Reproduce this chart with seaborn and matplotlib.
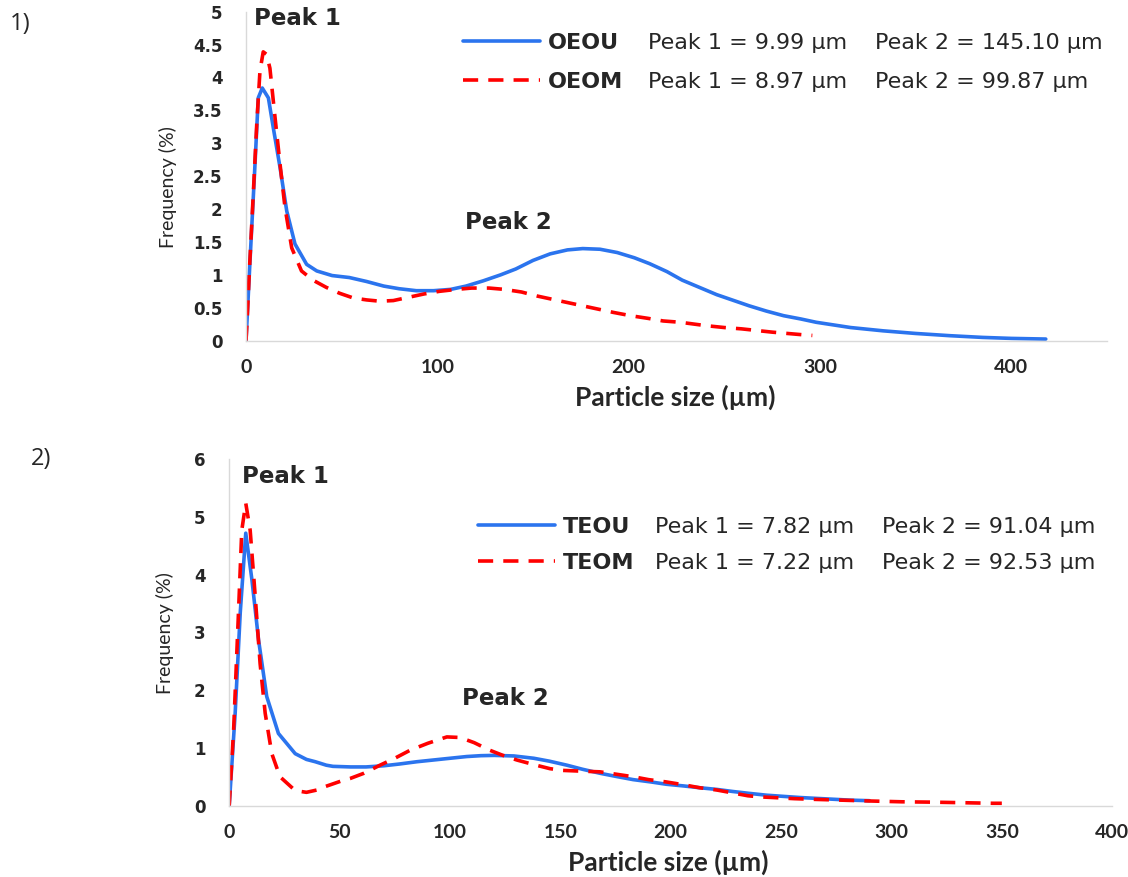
import numpy as np
import pandas as pd
import seaborn as sns
import matplotlib.pyplot as plt

# panel 1) OEOU / OEOM
oeou_x = [0, 2, 4.7, 6.4, 8.5, 11.7, 14.3, 17.8, 21.3, 25.6, 31.7, 37, 45, 54, 63, 72, 80, 89, 98,
          107, 115, 124, 133, 141, 150, 159, 168, 176, 185, 194, 203, 211, 220, 228, 237, 246, 255,
          263, 272, 281, 290, 298, 307, 316, 333, 350, 368, 385, 400, 418]
oeou_y = [0, 1.16, 2.68, 3.69, 3.84, 3.69, 3.23, 2.63, 1.97, 1.47, 1.16, 1.06, 0.99, 0.96, 0.9, 0.83,
          0.79, 0.76, 0.76, 0.78, 0.83, 0.91, 1.0, 1.09, 1.22, 1.32, 1.38, 1.40, 1.39, 1.34, 1.26,
          1.17, 1.05, 0.92, 0.81, 0.70, 0.61, 0.53, 0.45, 0.38, 0.33, 0.28, 0.24, 0.20, 0.15, 0.11,
          0.076, 0.05, 0.035, 0.025]
oeom_x = [0, 0.5, 2, 3.7, 5.6, 7.3, 9, 10.8, 12.5, 15, 17.8, 20.4, 23.9, 29, 35, 42, 49, 56, 63, 70,
          77, 85, 93, 101, 110, 118, 127, 135, 144, 152, 160, 168, 176, 184, 192, 201, 210, 218, 227,
          240, 250, 259, 267, 275, 283, 291, 296]
oeom_y = [0, 0.26, 1.2, 2.17, 3.28, 4.1, 4.39, 4.35, 4.14, 3.44, 2.68, 2.02, 1.41, 1.06, 0.92, 0.81,
          0.72, 0.65, 0.62, 0.60, 0.61, 0.66, 0.71, 0.75, 0.78, 0.80, 0.80, 0.78, 0.74, 0.68, 0.63,
          0.58, 0.53, 0.48, 0.43, 0.38, 0.34, 0.30, 0.28, 0.23, 0.20, 0.18, 0.155, 0.13, 0.11, 0.09,
          0.08]

# panel 2) TEOU / TEOM
teou_x = [0, 2.7, 5, 7.5, 10.3, 13.3, 17, 22.3, 29.9, 35, 39, 44, 47, 55, 62, 70, 77, 85, 92.5, 100,
          107.6, 114, 120, 129, 138, 145, 153, 160, 168, 176, 183, 191, 198, 206, 213, 221, 228, 236,
          243.5, 251, 258.6, 266, 273.7, 281, 290]
teou_y = [0, 1.6, 3.34, 4.72, 3.91, 2.87, 1.89, 1.25, 0.9, 0.8, 0.76, 0.70, 0.68, 0.67, 0.67, 0.69,
          0.72, 0.76, 0.79, 0.82, 0.85, 0.865, 0.87, 0.86, 0.82, 0.77, 0.70, 0.63, 0.56, 0.50, 0.45,
          0.41, 0.37, 0.34, 0.31, 0.28, 0.245, 0.21, 0.18, 0.16, 0.14, 0.125, 0.11, 0.095, 0.085]
teom_x = [0, 2, 4.2, 5.7, 7.5, 9.5, 11.8, 14, 16.3, 19.3, 23, 29.9, 35, 39.7, 43.5, 51.8, 54.8, 61,
          68.3, 75, 82, 90, 98.6, 104.6, 111, 118, 124, 130.3, 138, 145.3, 151, 157.5, 168, 176, 183,
          190, 198, 206, 213, 220.9, 228, 235, 241, 248.8, 256, 263.6, 276.7, 290, 304.6, 318, 332.6,
          346, 350]
teom_y = [0, 1.31, 3.34, 4.77, 5.24, 4.77, 3.62, 2.46, 1.6, 0.9, 0.5, 0.26, 0.23, 0.27, 0.33, 0.44,
          0.47, 0.56, 0.70, 0.82, 0.96, 1.08, 1.19, 1.18, 1.09, 0.96, 0.87, 0.79, 0.71, 0.64, 0.61,
          0.60, 0.585, 0.54, 0.50, 0.45, 0.41, 0.36, 0.31, 0.27, 0.22, 0.17, 0.15, 0.135, 0.12, 0.11,
          0.095, 0.08, 0.066, 0.06, 0.05, 0.04, 0.04]

peaks_1 = ["Peak 1 = 9.99 µm", "Peak 1 = 8.97 µm"]
peaks_2 = ["Peak 2 = 145.10 µm", "Peak 2 = 99.87 µm"]
peaks_t1 = ["Peak 1 = 7.82 µm", "Peak 1 = 7.22 µm"]
peaks_t2 = ["Peak 2 = 91.04 µm", "Peak 2 = 92.53 µm"]

BLUE = "#2B74EE"
RED = "#FF0000"
GREY = "#D9D9D9"
W, H = 1128, 877


def fx(px):
    return px / W


def fy(py):
    return 1 - py / H


def style_axes(ax, xlim, xticks, ylim, yticks):
    ax.set_xlim(*xlim)
    ax.set_ylim(*ylim)
    ax.set_xticks(xticks)
    ax.set_yticks(yticks)
    ax.set_yticklabels([f"{t:g}" for t in yticks], fontfamily="DejaVu Sans",
                       fontweight="bold", fontsize=12)
    ax.set_xticklabels([f"{t:g}" for t in xticks], fontfamily="Lato",
                       fontweight="bold", fontsize=14)
    ax.tick_params(length=0, pad=17)
    ax.tick_params(axis="x", pad=13)
    for s in ["top", "right"]:
        ax.spines[s].set_visible(False)
    for s in ["left", "bottom"]:
        ax.spines[s].set_color(GREY)
        ax.spines[s].set_linewidth(1)
    ax.grid(False)
    ax.set_xlabel("Particle size (µm)", fontfamily="Lato", fontweight="bold", fontsize=19)
    ax.set_ylabel("Frequency (%)", fontfamily="Lato", fontsize=14)


def draw_panel(ax, xs, ys, names):
    sns.lineplot(x=xs[0], y=ys[0], ax=ax, color=BLUE, linewidth=2.6, label=names[0])
    sns.lineplot(x=xs[1], y=ys[1], ax=ax, color=RED, linewidth=2.6, label=names[1],
                 linestyle=(0, (4.2, 2.8)))
    for ln in ax.lines:
        ln.set_solid_joinstyle("round")
        ln.set_dash_joinstyle("round")


sns.set_style("white")
plt.rcParams["font.family"] = ["Lato", "DejaVu Sans"]

fig = plt.figure(figsize=(W / 100, H / 100), dpi=100)
fig.patch.set_facecolor("white")

ax1 = fig.add_axes([fx(246), fy(340.7), 861 / W, 329 / H])
ax2 = fig.add_axes([fx(229.2), fy(805.6), 883 / W, 346.3 / H])

draw_panel(ax1, [oeou_x, oeom_x], [oeou_y, oeom_y], ["OEOU", "OEOM"])
draw_panel(ax2, [teou_x, teom_x], [teou_y, teom_y], ["TEOU", "TEOM"])

style_axes(ax1, (0, 450), [0, 100, 200, 300, 400], (0, 5), list(np.arange(0, 5.01, 0.5)))
style_axes(ax2, (0, 400), list(range(0, 401, 50)), (0, 6), list(range(0, 7)))

ax1.xaxis.set_label_coords((675 - 246) / 861, -57 / 329)
ax1.yaxis.set_label_coords((168 - 246) / 861, (340.7 - 187) / 329)
ax2.xaxis.set_label_coords((668 - 229.2) / 883, -57 / 346.3)
ax2.yaxis.set_label_coords((165 - 229.2) / 883, (805.6 - 633) / 346.3)
for ax in (ax1, ax2):
    ax.xaxis.label.set_va("center")
    ax.yaxis.label.set_va("center")

# legends: line sample + bold series name
for ax, left, cy, sp in [(ax1, 463, 62.5, 0.85), (ax2, 478, 545, 0.72)]:
    ax.legend(loc="center left", bbox_to_anchor=(fx(left), fy(cy)),
              bbox_transform=fig.transFigure, frameon=False, borderpad=0,
              borderaxespad=0, handlelength=3.45, handletextpad=0.36,
              labelspacing=sp, prop={"family": "DejaVu Sans", "weight": "bold", "size": 16})

# peak values next to the legend
for i, (a, b) in enumerate(zip(peaks_1, peaks_2)):
    y = [43, 82][i]
    fig.text(fx(648), fy(y), a, fontfamily="DejaVu Sans", fontsize=16, va="center")
    fig.text(fx(875), fy(y), b, fontfamily="DejaVu Sans", fontsize=16, va="center")
for i, (a, b) in enumerate(zip(peaks_t1, peaks_t2)):
    y = [527, 563][i]
    fig.text(fx(655), fy(y), a, fontfamily="DejaVu Sans", fontsize=16, va="center")
    fig.text(fx(882), fy(y), b, fontfamily="DejaVu Sans", fontsize=16, va="center")

ann = dict(fontfamily="DejaVu Sans", fontweight="bold", fontsize=16.5, ha="center", va="center")
ax1.text(26.7, 4.9, "Peak 1", **ann)
ax1.text(137, 1.80, "Peak 2", **ann)
ax2.text(25.3, 5.71, "Peak 1", **ann)
ax2.text(125, 1.85, "Peak 2", **ann)

fig.text(fx(20), fy(24), "1)", fontfamily="Open Sans", fontsize=17, ha="center", va="center")
fig.text(fx(41), fy(459), "2)", fontfamily="Open Sans", fontsize=17, ha="center", va="center")

fig.savefig("out.png", dpi=100, facecolor="white")
